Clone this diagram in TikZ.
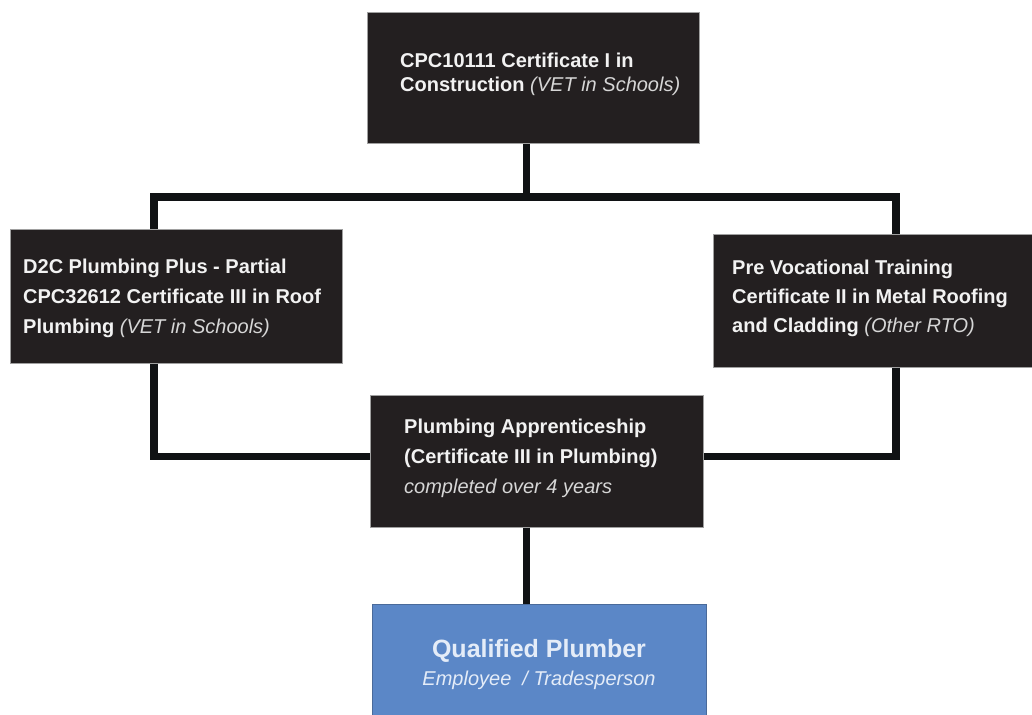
\documentclass[tikz,border=0pt]{standalone}
\usepackage{fontspec}
\setmainfont{Liberation Sans}
\definecolor{boxfill}{HTML}{231F20}
\definecolor{boxedge}{HTML}{A0A0A0}
\definecolor{linecol}{HTML}{101214}
\definecolor{bluefill}{HTML}{5B87C7}
\definecolor{blueedge}{HTML}{4A6A9A}
\definecolor{maintext}{HTML}{F2F2F2}
\definecolor{italtext}{HTML}{D6D6D6}
\definecolor{qtext}{HTML}{E4ECF8}
\newcommand{\ilab}[1]{\textcolor{italtext}{\itshape #1}}
\begin{document}
\begin{tikzpicture}[x=1pt,y=-1pt,
  box/.style={draw=boxedge, line width=1pt, fill=boxfill, inner sep=0pt},
  bluebox/.style={draw=blueedge, line width=1pt, fill=bluefill, inner sep=0pt},
  conn/.style={draw=linecol, line width=7.5pt},
  txt/.style={text=maintext, align=left, inner sep=0pt, anchor=north west,
    font=\fontsize{20pt}{30pt}\selectfont}]
\fill[white] (0,0) rectangle (1032,714);
\useasboundingbox (0,0) rectangle (1032,714);
% boxes
\node[box, minimum width=332pt, minimum height=131pt] (top) at (533,78.5) {};
\node[box, minimum width=332pt, minimum height=134pt] (left) at (176,296) {};
\node[box, minimum width=327pt, minimum height=133pt] (right) at (876.5,300.5) {};
\node[box, minimum width=333pt, minimum height=132pt] (mid) at (536.5,461) {};
\node[bluebox, minimum width=334pt, minimum height=120pt] (blue) at (539,664) {};
% junction coordinates
\coordinate (J) at (526.5,197);
\coordinate (L) at (154,197);
\coordinate (R) at (896,197);
\coordinate (M) at (0,456.5);
% connectors
\draw[conn] (top.south -| J) -- (J);
\draw[conn] (left.north -| L) -- (L) -- (R) -- (right.north -| R);
\draw[conn] (left.south -| L) |- (mid.west |- M);
\draw[conn] (right.south -| R) |- (mid.east |- M);
\draw[conn] (mid.south -| J) -- (blue.north -| J);
% texts
\node[txt, font=\fontsize{20pt}{24pt}\selectfont] (toptxt) at (400,52.4)
  {\textbf{CPC10111 Certificate I in}\\\textbf{Construction} \ilab{(VET in Schools)}};
\node[txt] (lefttxt) at (23,258.4)
  {\textbf{D2C Plumbing Plus - Partial}\\\textbf{CPC32612 Certificate III in Roof}\\\textbf{Plumbing} \ilab{(VET in Schools)}};
\node[txt, font=\fontsize{20pt}{29pt}\selectfont] (righttxt) at (732,259.4)
  {\textbf{Pre Vocational Training}\\\textbf{Certificate II in Metal Roofing}\\\textbf{and Cladding} \ilab{(Other RTO)}};
\node[txt] (midtxt) at (404,418.4)
  {\textbf{Plumbing Apprenticeship}\\\textbf{(Certificate III in Plumbing)}\\\ilab{completed over 4 years}};
\node[anchor=base, inner sep=0pt, text=qtext, font=\bfseries\fontsize{25pt}{30pt}\selectfont] (qp1) at (539,657) {Qualified Plumber};
\node[anchor=base, inner sep=0pt, text=qtext, font=\itshape\fontsize{20pt}{24pt}\selectfont] (qp2) at (539,685) {Employee\ \ / Tradesperson};
\end{tikzpicture}
\end{document}
